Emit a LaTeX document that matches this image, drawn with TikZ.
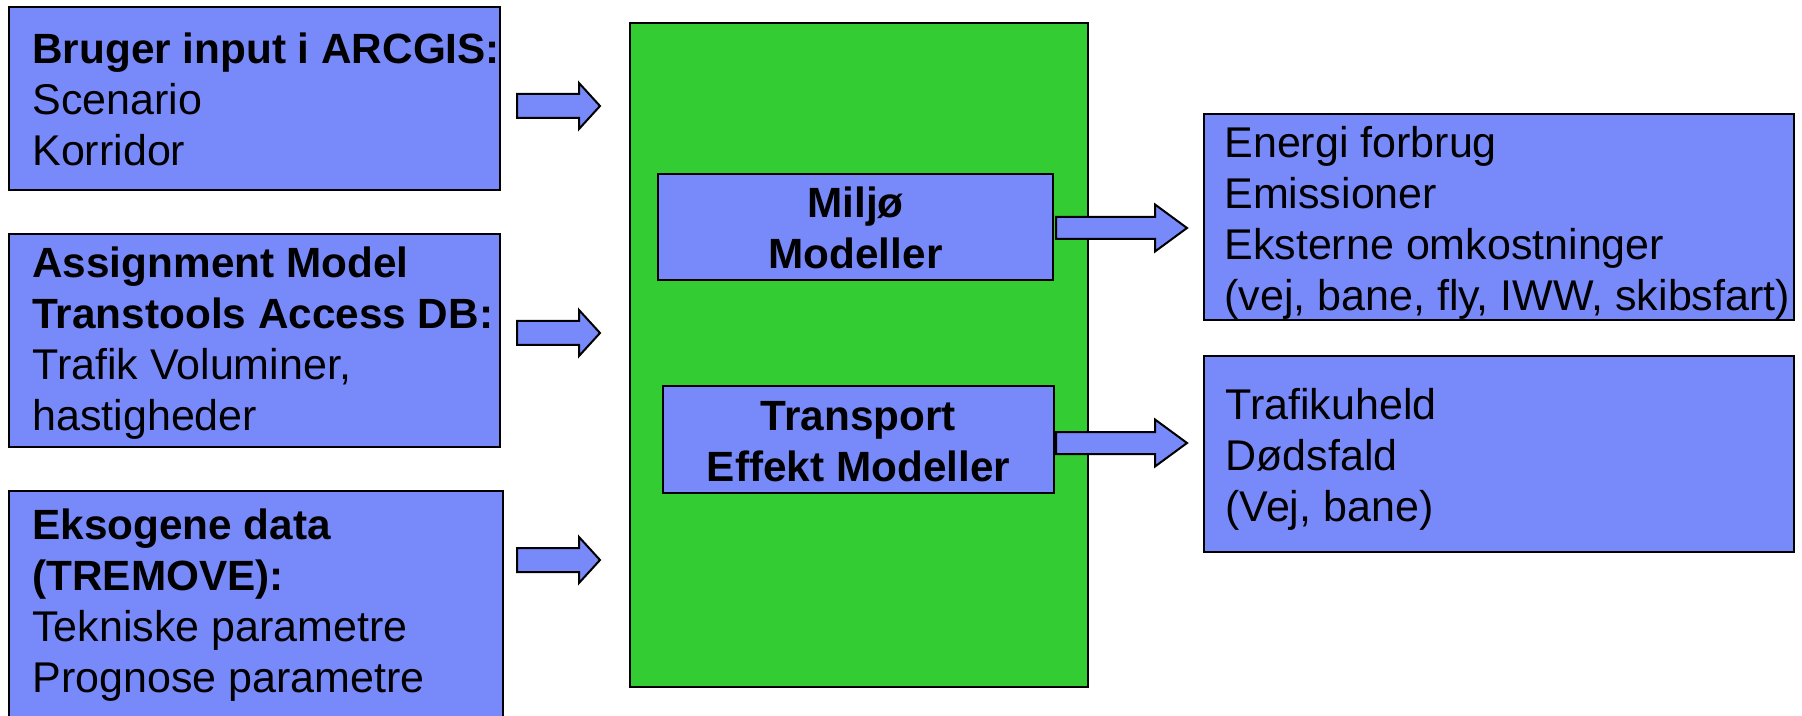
\documentclass[tikz,border=0pt]{standalone}
\usepackage{fontspec}
\setmainfont{Liberation Sans}
\usetikzlibrary{fit}

\definecolor{boxblue}{RGB}{120,138,250}
\definecolor{coregreen}{RGB}{51,204,51}

% a block of lines set on a fixed line pitch; its baseline is that of the first line
\newcommand\txtblock[2]{\begin{tabular}[t]{@{}#1@{}}#2\end{tabular}}
% heading lines, set a touch tighter than the body lines
\newcommand\hd[1]{{\fontsize{21.15}{25.5}\selectfont\bfseries #1}}

% fat block arrows, given the vertical centre line
\newcommand\inarrow[2]{%
  \draw[blockarrow] (517,#2-12) -- (579,#2-12) -- (579,#2-23) -- coordinate (#1) (600,#2)
    -- (579,#2+23) -- (579,#2+12) -- (517,#2+12) -- cycle;}
\newcommand\outarrow[2]{%
  \draw[blockarrow] (1056,#2-11) -- (1155,#2-11) -- (1155,#2-23.5) -- coordinate (#1) (1187,#2)
    -- (1155,#2+23.5) -- (1155,#2+11) -- (1056,#2+11) -- cycle;}

\begin{document}
\begin{tikzpicture}[x=0.5pt,y=-0.5pt,
  panel/.style={draw=black, line width=1pt, fill=boxblue, inner sep=0pt},
  core/.style={draw=black, line width=1pt, fill=coregreen, inner sep=0pt},
  txt/.style={inner sep=0pt, font=\fontsize{21.5}{25.5}\selectfont},
  blockarrow/.style={draw=black, line width=1pt, fill=boxblue, line join=miter}]

\useasboundingbox (0,0) rectangle (1802,716);
\clip (0,0) rectangle (1802,716);
\fill[white] (0,0) rectangle (1802,716);

% input panels on the left
\node[panel, fit={(9,7) (500,190)}] (in1) {};
\node[panel, fit={(9,234) (500,447)}] (in2) {};
\node[panel, fit={(9,491) (503,730)}] (in3) {};

\node[txt, anchor=base west] (in1t) at (32,64)
  {\txtblock{l}{\hd{Bruger input i ARCGIS:}\\Scenario\\Korridor}};
\node[txt, anchor=base west] (in2t) at (32,278)
  {\txtblock{l}{\hd{Assignment Model}\\\hd{Transtools Access DB:}\\Trafik Voluminer,\\hastigheder}};
\node[txt, anchor=base west] (in3t) at (32,539)
  {\txtblock{l}{\hd{Eksogene data}\\\hd{(TREMOVE):}\\Tekniske parametre\\Prognose parametre}};

% central model block
\node[core, fit={(630,23) (1088,687)}] (core) {};
\node[panel, fit={(658,174) (1053,280)}] (miljo) {};
\node[panel, fit={(663,386) (1054,493)}] (tem) {};
\node[txt, anchor=base] (miljot) at (855.5,218)
  {\txtblock{c}{\hd{Miljø}\\\hd{Modeller}}};
\node[txt, anchor=base] (temt) at (858.5,430)
  {\txtblock{c}{\hd{Transport}\\\hd{Effekt Modeller}}};

% output panels on the right
\node[panel, fit={(1204,114) (1794,320)}] (out1) {};
\node[panel, fit={(1204,356) (1794,552)}] (out2) {};
\node[txt, anchor=base west] (out1t) at (1224,158)
  {\txtblock{l}{Energi forbrug\\Emissioner\\Eksterne omkostninger\\(vej, bane, fly, IWW, skibsfart)}};
\node[txt, anchor=base west] (out2t) at (1225,419)
  {\txtblock{l}{Trafikuheld\\Dødsfald\\(Vej, bane)}};

% flow arrows
\inarrow{a1}{106}
\inarrow{a2}{333}
\inarrow{a3}{560}
\outarrow{b1}{228}
\outarrow{b2}{443}

\end{tikzpicture}
\end{document}
